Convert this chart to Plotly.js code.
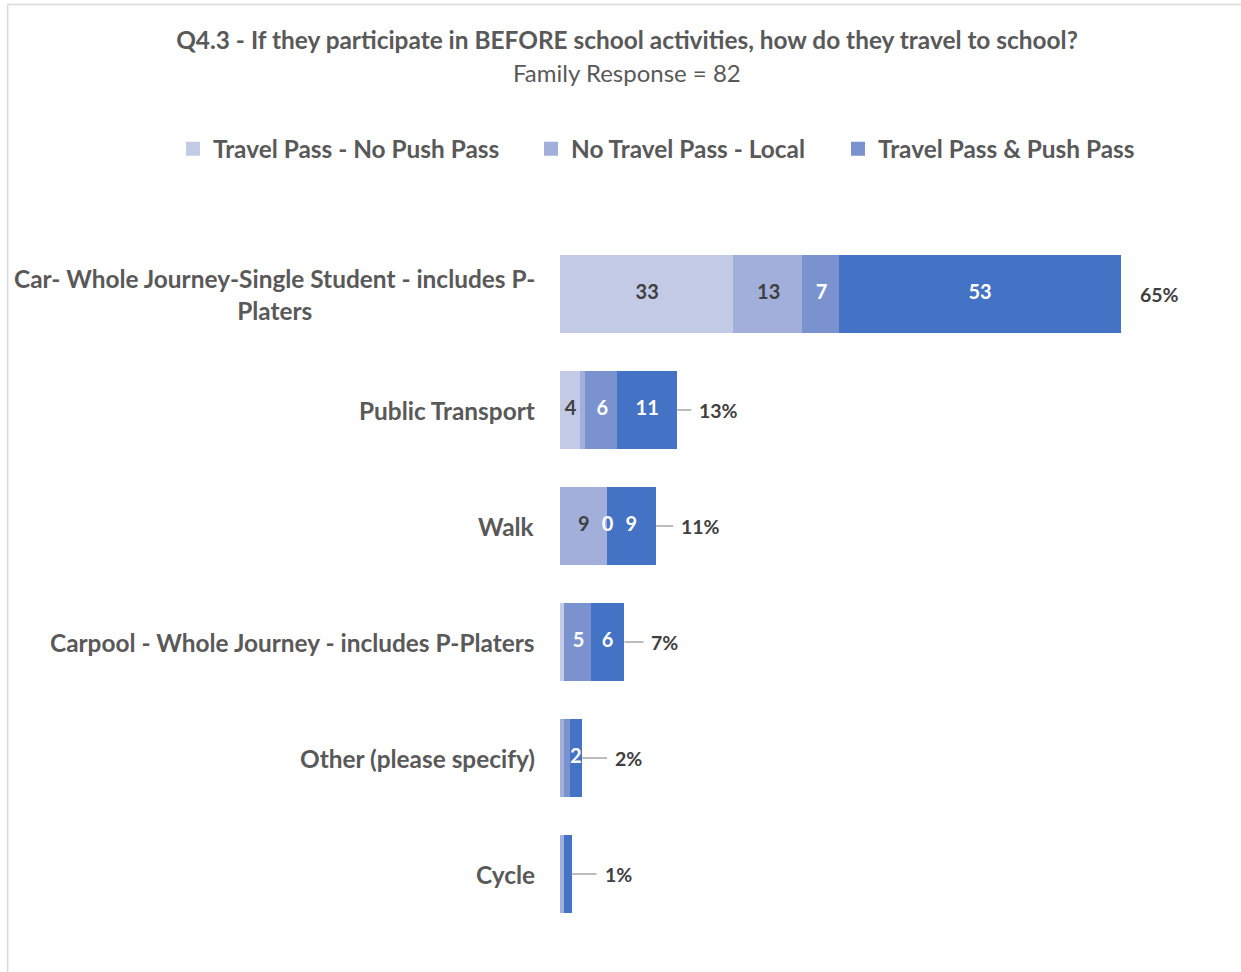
<!DOCTYPE html>
<html><head><meta charset="utf-8">
<script src="https://cdn.plot.ly/plotly-3.0.1.min.js"></script>
<style>html,body{margin:0;padding:0;background:#fff}#chart{width:1241px;height:972px}</style>
</head><body><div id="chart"></div>
<script>
// ---- data ----
const categories = ['Car- Whole Journey-Single Student - includes P-Platers','Public Transport','Walk','Carpool - Whole Journey - includes P-Platers','Other (please specify)','Cycle'];
const categoryLabels = ['Car- Whole Journey-Single Student - includes P-<br>Platers','Public Transport','Walk','Carpool - Whole Journey - includes P-Platers','Other (please specify)','Cycle'];
const seriesNames = ['Travel Pass - No Push Pass','No Travel Pass - Local','Travel Pass & Push Pass','Series 4'];
const travelPassNoPush = [33, 4, 0, 1, 0, 0];
const noTravelPassLocal = [13, 1, 9, 0, 1, 1];
const travelPassPush = [7, 6, 0, 5, 1, 0];
const series4 = [53, 11, 9, 6, 2, 1];
const labels1 = ['33','4','','','',''];
const labels2 = ['13','','9','','',''];
const labels3 = ['7','6','0','5','',''];
const labels4 = ['53','11','9','6','2',''];
const titleText = 'Q4.3 - If they participate in BEFORE school activities, how do they travel to school?';
const subtitleText = 'Family Response = 82';

// ---- style / layout ----
const seriesValues = [travelPassNoPush, noTravelPassLocal, travelPassPush, series4];
const seriesLabels = [labels1, labels2, labels3, labels4];
const colors = ['#c3cae6','#a2afda','#7a93cf','#4472c4'];
const labelColors = ['#404040','#404040','#ffffff','#ffffff'];
const FONT = 'Lato, "Open Sans", sans-serif';
const W = 1241, H = 972;
const L = 560, plotW = 633.6, T = 236, plotH = 696;
const xMax = 120;
const px2x = p => (p - L) / plotW;
const py2y = p => (T + plotH - p) / plotH;

const traces = [];
const legendIds = ['legend','legend2','legend3'];
seriesValues.forEach((vals, i) => {
  traces.push({
    type: 'bar', orientation: 'h', name: seriesNames[i],
    x: vals, y: categories,
    marker: {color: colors[i], line: {width: 2, color: colors[i]}},
    showlegend: i < 3, legend: i < 3 ? legendIds[i] : 'legend',
    hoverinfo: 'skip'
  });
});
// value labels centred in each segment
const cum = categories.map(() => 0);
seriesValues.forEach((vals, i) => {
  const xs = [], ys = [], ts = [];
  vals.forEach((v, j) => {
    if (seriesLabels[i][j] !== '') { xs.push(cum[j] + v / 2); ys.push(categories[j]); ts.push(seriesLabels[i][j]); }
    cum[j] += v;
  });
  traces.push({
    type: 'scatter', mode: 'text', x: xs, y: ys, text: ts,
    textposition: 'middle center', showlegend: false, hoverinfo: 'skip', cliponaxis: false,
    textfont: {family: FONT, size: 20, color: labelColors[i], weight: 'bold'}
  });
});
const totals = cum.slice();
const grand = totals.reduce((a, b) => a + b, 0);

const annotations = [];
annotations.push({xref:'paper', yref:'paper', x: px2x(627), y: py2y(72), text: subtitleText, showarrow:false,
  xanchor:'center', yanchor:'middle', font:{family:FONT, size:24, color:'#595959'}});
categories.forEach((c, i) => {
  annotations.push({xref:'paper', yref:'y', x: px2x(537), y: c, text: categoryLabels[i], showarrow:false,
    xanchor:'right', yanchor:'middle', align:'center', font:{family:FONT, size:24.4, color:'#595959', weight:'bold'}});
});
const pctOffsets = [0, 15, 18, 20, 26, 26];
totals.forEach((t, i) => {
  const txt = Math.round(100 * t / grand) + '%';
  const a = {xref:'x', yref:'y', x: t, y: categories[i], text: txt, xanchor:'left', yanchor:'middle',
    borderpad: 7, font:{family:FONT, size:19.5, color:'#404040', weight:'bold'}};
  if (i === 0) { a.showarrow = false; a.xshift = 12; }
  else { Object.assign(a, {showarrow:true, ax: pctOffsets[i], ay: 0, axref:'pixel', ayref:'pixel',
    arrowhead:0, arrowwidth:1.5, arrowcolor:'#a6a6a6', standoff:1}); }
  annotations.push(a);
});

const legendBase = {orientation:'h', xref:'container', yref:'container', y: 1 - 149 / H,
  xanchor:'left', yanchor:'middle', bgcolor:'rgba(0,0,0,0)', borderwidth:0,
  font:{family:FONT, size:24.4, color:'#595959', weight:'bold'}};

const layout = {
  width: W, height: H,
  margin: {l: L, r: W - L - plotW, t: T, b: H - T - plotH, pad: 0},
  paper_bgcolor: '#ffffff', plot_bgcolor: '#ffffff',
  barmode: 'stack', bargap: 0.353,
  font: {family: FONT, color: '#595959'},
  xaxis: {range: [0, xMax], visible: false, fixedrange: true},
  yaxis: {type:'category', categoryorder:'array', categoryarray: categories, range:[5.5, -0.5],
    showticklabels:false, showgrid:false, zeroline:false, showline:false, ticks:'', fixedrange:true},
  title: {text: titleText, xref:'container', yref:'container', x: 627 / W, y: 1 - 40 / H,
    xanchor:'center', yanchor:'middle', font:{family:FONT, size:24.4, color:'#595959', weight:'bold'}},
  legend: Object.assign({}, legendBase, {x: (213 - 40) / W}),
  legend2: Object.assign({}, legendBase, {x: (571 - 40) / W}),
  legend3: Object.assign({}, legendBase, {x: (878 - 40) / W}),
  annotations: annotations,
  shapes: [
    {type:'line', xref:'paper', yref:'paper', x0: px2x(8), x1: px2x(8), y0: py2y(972), y1: py2y(4.5), line:{color:'#d9d9d9', width:1.5}, layer:'below'},
    {type:'line', xref:'paper', yref:'paper', x0: px2x(8), x1: px2x(1241), y0: py2y(4.5), y1: py2y(4.5), line:{color:'#d9d9d9', width:1.5}, layer:'below'}
  ]
};
Plotly.newPlot('chart', traces, layout, {displayModeBar:false, staticPlot:true});
</script></body></html>
